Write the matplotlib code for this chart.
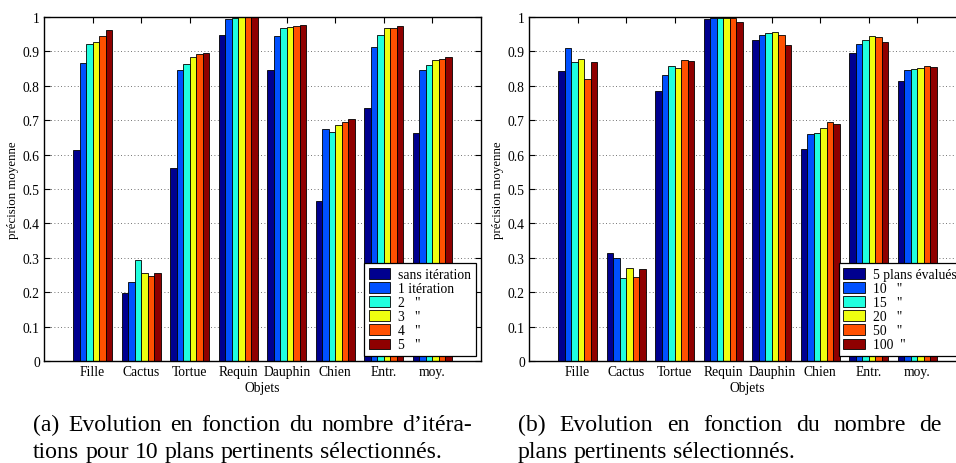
import matplotlib
matplotlib.use("Agg")
import matplotlib.pyplot as plt
from matplotlib.transforms import IdentityTransform
import numpy as np

plt.rcParams["font.family"] = ["Liberation Serif", "DejaVu Serif"]

# ── data ─────────────────────────────────────────────────────────

objets = ["Fille", "Cactus", "Tortue", "Requin", "Dauphin", "Chien", "Entr.", "moy."]
y_ticks = [0, 0.1, 0.2, 0.3, 0.4, 0.5, 0.6, 0.7, 0.8, 0.9, 1]
y_tick_labels = ["0", "0.1", "0.2", "0.3", "0.4", "0.5", "0.6", "0.7", "0.8", "0.9", "1"]
jet6 = ["#00008f", "#0050ff", "#20ffdf", "#efff10", "#ff5000", "#8f0000"]

# (a) nombre d'itérations, 10 plans pertinents
iter_labels = ["sans itération", "1 itération", '2   "', '3   "', '4   "', '5   "']
iter_0 = [0.613, 0.197, 0.560, 0.949, 0.845, 0.464, 0.735, 0.663]
iter_1 = [0.865, 0.231, 0.845, 0.994, 0.945, 0.673, 0.913, 0.846]
iter_2 = [0.921, 0.294, 0.864, 0.998, 0.967, 0.667, 0.947, 0.860]
iter_3 = [0.927, 0.257, 0.884, 1.000, 0.972, 0.686, 0.969, 0.874]
iter_4 = [0.946, 0.247, 0.893, 1.000, 0.975, 0.694, 0.968, 0.878]
iter_5 = [0.961, 0.257, 0.895, 1.000, 0.978, 0.704, 0.974, 0.883]

# (b) nombre de plans évalués
plans_labels = ["5 plans évalués", '10   "', '15   "', '20   "', '50   "', '100  "']
plans_5 = [0.844, 0.313, 0.785, 0.994, 0.932, 0.616, 0.896, 0.815]
plans_10 = [0.910, 0.300, 0.830, 0.997, 0.947, 0.661, 0.922, 0.845]
plans_15 = [0.868, 0.241, 0.859, 0.998, 0.953, 0.664, 0.932, 0.850]
plans_20 = [0.879, 0.270, 0.853, 0.997, 0.955, 0.676, 0.945, 0.853]
plans_50 = [0.820, 0.244, 0.876, 0.996, 0.948, 0.696, 0.941, 0.859]
plans_100 = [0.869, 0.266, 0.872, 0.985, 0.919, 0.688, 0.926, 0.855]

caption_a = ["(a) Evolution en fonction du nombre d\u2019itéra-",
             "tions pour 10 plans pertinents sélectionnés."]
caption_b = ["(b) Evolution en fonction du nombre de",
             "plans pertinents sélectionnés."]

FS = 9.8


def grouped_bars(ax, series, labels):
    x = np.arange(1, len(objets) + 1)
    n = len(series)
    w = 0.8 / n
    for i, (vals, lab) in enumerate(zip(series, labels)):
        ax.bar(x + (i - (n - 1) / 2) * w, vals, width=w, color=jet6[i],
               edgecolor="black", linewidth=0.6, label=lab, zorder=2)
    ax.set_xlim(0, len(objets) + 1)
    ax.set_ylim(0, 1)
    ax.set_xticks(x)
    ax.set_xticklabels(objets, fontsize=FS)
    ax.set_yticks(y_ticks)
    ax.set_yticklabels(y_tick_labels, fontsize=FS)
    ax.tick_params(direction="in", length=4, width=0.8, top=True, right=True, pad=3)
    ax.yaxis.grid(True, linestyle=(0, (1, 3)), linewidth=0.6, color="#444444")
    ax.set_axisbelow(True)
    for sp in ax.spines.values():
        sp.set_linewidth(1.0)
    ax.set_xlabel("Objets", fontsize=FS, labelpad=2)
    ax.set_ylabel("précision moyenne", fontsize=9.3, labelpad=3)
    leg = ax.legend(loc="lower right", fontsize=FS, fancybox=False, framealpha=1,
                    edgecolor="black", borderaxespad=0.35, handlelength=1.55,
                    handleheight=0.8, labelspacing=0.08, handletextpad=0.6,
                    borderpad=0.35)
    leg.get_frame().set_linewidth(0.9)


def caption(fig, lines, x0, x1, y0, size=17.1, step=27):
    r = fig.canvas.get_renderer()
    for k, line in enumerate(lines):
        y = y0 - k * step
        words = line.split()
        arts = [fig.text(0, y, w, fontsize=size, va="baseline",
                         transform=IdentityTransform()) for w in words]
        widths = [a.get_window_extent(r).width for a in arts]
        if k == len(lines) - 1:
            # natural word spacing on the last line
            t1 = fig.text(0, 0, "a b", fontsize=size)
            t2 = fig.text(0, 0, "ab", fontsize=size)
            gap = t1.get_window_extent(r).width - t2.get_window_extent(r).width
            t1.remove()
            t2.remove()
        else:
            gap = (x1 - x0 - sum(widths)) / (len(words) - 1)
        x = x0
        for a, wd in zip(arts, widths):
            a.set_x(x)
            x += wd + gap


fig = plt.figure(figsize=(9.56, 4.64), dpi=100)
ax_a = fig.add_axes([44 / 956, 102 / 464, 437 / 956, 344 / 464])
ax_b = fig.add_axes([529 / 956, 102 / 464, 437 / 956, 344 / 464])

grouped_bars(ax_a, [iter_0, iter_1, iter_2, iter_3, iter_4, iter_5], iter_labels)
grouped_bars(ax_b, [plans_5, plans_10, plans_15, plans_20, plans_50, plans_100], plans_labels)

caption(fig, caption_a, 33, 472, 464 - 431)
caption(fig, caption_b, 518, 942, 464 - 431)

fig.savefig("out.png", dpi=100)
